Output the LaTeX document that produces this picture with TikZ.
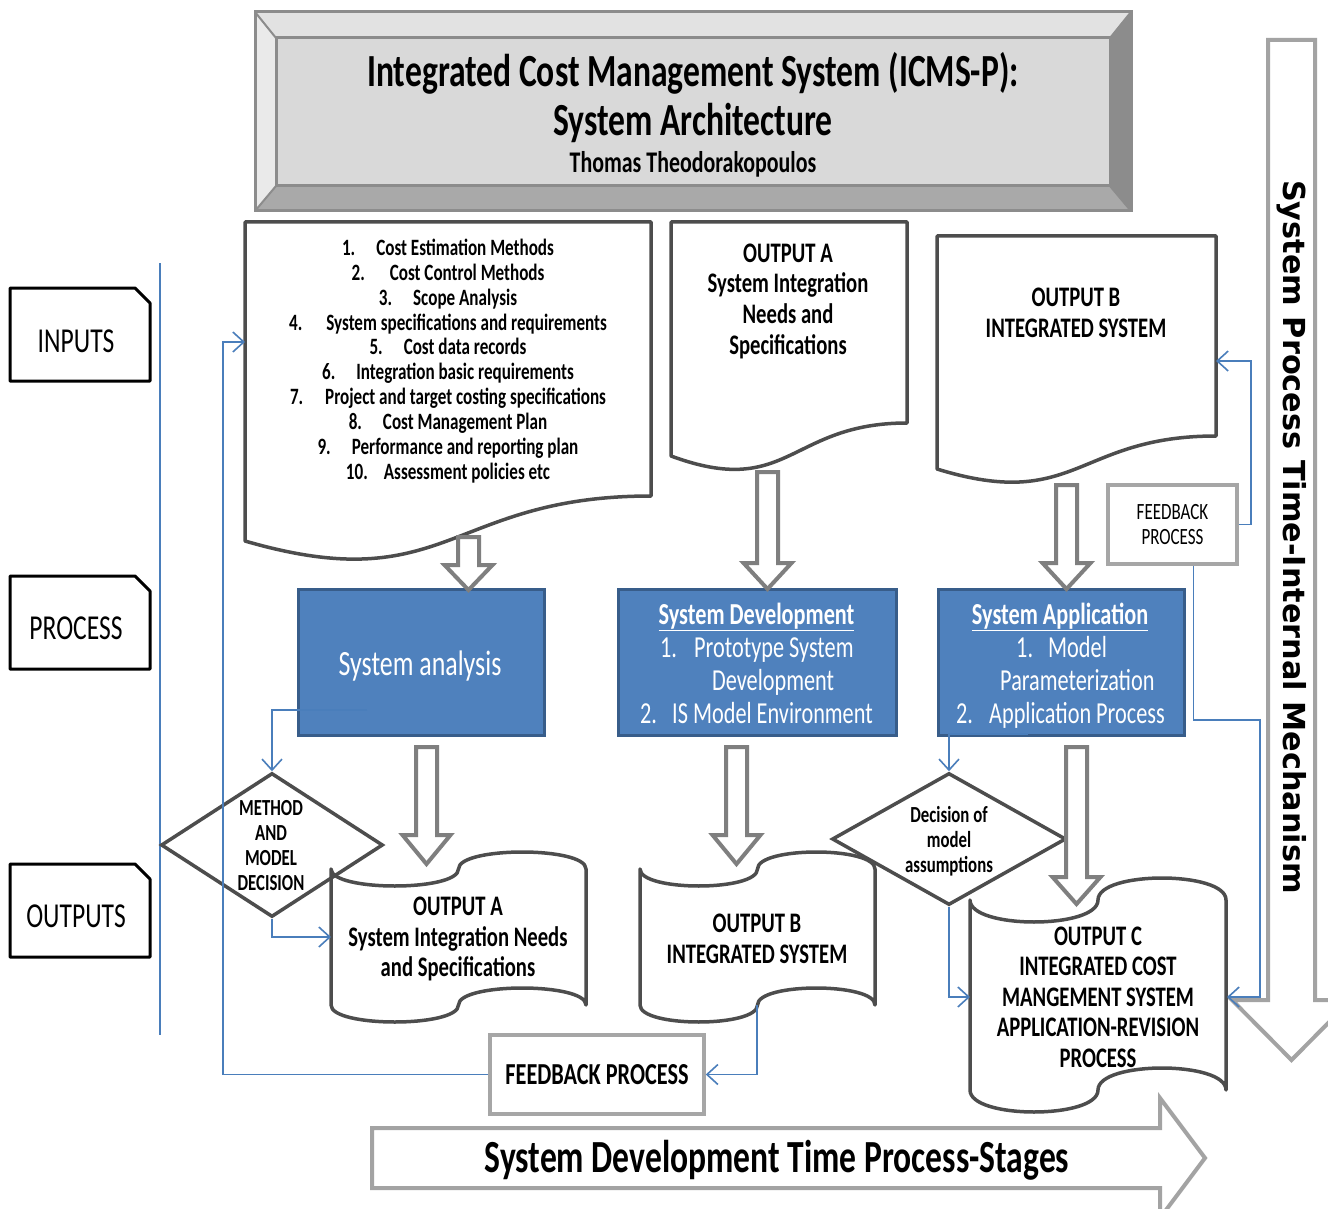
\documentclass[tikz,border=0pt]{standalone}
\usepackage{fontspec}
\setmainfont{Carlito}[FakeStretch=0.73]
\newfontfamily\vertfont{DejaVu Sans}
\usetikzlibrary{arrows.meta,shapes.geometric}

\definecolor{docgray}{HTML}{4D4D4D}
\definecolor{arrowgray}{HTML}{7F7F7F}
\definecolor{bigarrowgray}{HTML}{A3A3A3}
\definecolor{fbgray}{HTML}{A6A6A6}
\definecolor{linkblue}{HTML}{4A7EBB}
\definecolor{boxblue}{HTML}{4F81BD}
\definecolor{boxedge}{HTML}{385D8A}
\definecolor{bevtop}{HTML}{E2E2E2}
\definecolor{bevleft}{HTML}{EAEAEA}
\definecolor{bevright}{HTML}{8C8C8C}
\definecolor{bevbot}{HTML}{A9A9A9}
\definecolor{bevface}{HTML}{D9D9D9}
\definecolor{bevline}{HTML}{8C8C8C}

\newcommand{\sz}[2]{\fontsize{#1}{#2}\selectfont}

% hollow block arrow pointing down: centre x, top, head start, tip
\newcommand{\hollowdown}[4]{%
  \draw[hollow] (#1-10.5,#2) -- (#1+10.5,#2) -- (#1+10.5,#3) -- (#1+24,#3)
    -- (#1,#4) -- (#1-24,#3) -- (#1-10.5,#3) -- cycle;}

% punched tape: left, right, top level, bottom level, wave amplitude
\newcommand{\tapeshape}[5]{%
  \draw[docline] (#1,#3) .. controls (#1,#3+1.333*#5) and ({(#1+#2)/2},#3+1.333*#5) .. ({(#1+#2)/2},#3)
    .. controls ({(#1+#2)/2},#3-1.333*#5) and (#2,#3-1.333*#5) .. (#2,#3)
    -- (#2,#4) .. controls (#2,#4-1.333*#5) and ({(#1+#2)/2},#4-1.333*#5) .. ({(#1+#2)/2},#4)
    .. controls ({(#1+#2)/2},#4+1.333*#5) and (#1,#4+1.333*#5) .. (#1,#4) -- cycle;}

\tikzset{
  docline/.style={draw=docgray, line width=3.5pt, fill=white, line join=round},
  hollow/.style={draw=arrowgray, line width=4pt, fill=white, line join=miter},
  bigarrow/.style={draw=bigarrowgray, line width=4pt, fill=white, line join=miter},
  link/.style={draw=linkblue, line width=1.6pt,
    -{Straight Barb[length=11pt,width=20pt,line width=1.6pt]}},
  bluebox/.style={draw=boxedge, line width=3pt, fill=boxblue, inner sep=0pt},
  fbbox/.style={draw=fbgray, line width=3.5pt, fill=white, inner sep=0pt, align=center},
  txt/.style={inner sep=0pt, align=center, text=black},
  wtxt/.style={inner sep=0pt, text=white, anchor=base west},
  wctr/.style={inner sep=0pt, text=white, anchor=base},
  diam/.style={diamond, draw=docgray, line width=3.5pt, inner sep=0pt},
  labelbox/.style={draw=black, line width=3pt, line join=round, fill=white},
}

\begin{document}
\begin{tikzpicture}[x=1pt,y=-1pt]
\path[use as bounding box] (0,0) rectangle (1328,1209);
\fill[white] (0,0) rectangle (1328,1209);

% ---------- big time arrows ----------
\begin{scope}
\clip (0,0) rectangle (1328,1209);
\draw[bigarrow] (1268,40) -- (1315,40) -- (1315,1000) -- (1351,1000) -- (1291.5,1060)
  -- (1232,1000) -- (1268,1000) -- cycle;
\draw[bigarrow] (372,1128) -- (1160,1128) -- (1160,1098) -- (1205,1158) -- (1160,1218)
  -- (1160,1188) -- (372,1188) -- cycle;
\end{scope}
\node[inner sep=0pt, rotate=-90, font=\vertfont\bfseries\sz{30.3}{36}] (vtime) at (1292,537)
  {System Process Time-Internal Mechanism};
\node[txt, font=\bfseries\sz{46}{50}] (htime) at (777,1160)
  {System Development Time Process-Stages};

% ---------- title block ----------
\fill[bevtop] (255,12) -- (1131,12) -- (1110,38) -- (276,38) -- cycle;
\fill[bevleft] (255,12) -- (276,38) -- (276,186) -- (255,211) -- cycle;
\fill[bevright] (1131,12) -- (1131,211) -- (1110,186) -- (1110,38) -- cycle;
\fill[bevbot] (255,211) -- (1131,211) -- (1110,186) -- (276,186) -- cycle;
\fill[bevface] (276,38) rectangle (1110,186);
\draw[bevline, line width=3pt] (255,12) rectangle (1131,211);
\draw[bevline, line width=3pt] (276,38) rectangle (1110,186);
\draw[bevline, line width=2pt] (255,12) -- (276,38) (1131,12) -- (1110,38)
  (255,211) -- (276,186) (1131,211) -- (1110,186);
\node[txt, font=\bfseries\sz{46}{50}] (ttlA) at (693,73) {Integrated Cost Management System (ICMS-P):};
\node[txt, font=\bfseries\sz{46}{50}] (ttlB) at (693,123) {System Architecture};
\node[txt, font=\bfseries\sz{30}{36}] (ttlC) at (693,164) {Thomas Theodorakopoulos};

% ---------- stage labels ----------
\draw[labelbox] (10,288) -- (135,288) -- (150,303) -- (150,381) -- (10,381) -- cycle;
\draw[labelbox] (10,576) -- (135,576) -- (150,591) -- (150,669) -- (10,669) -- cycle;
\draw[labelbox] (10,864) -- (135,864) -- (150,879) -- (150,957) -- (10,957) -- cycle;
\node[txt, font=\sz{35}{40}] (lblIn) at (76,341) {INPUTS};
\node[txt, font=\sz{35}{40}] (lblPr) at (76,628) {PROCESS};
\node[txt, font=\sz{35}{40}] (lblOut) at (76,916) {OUTPUTS};
\draw[linkblue, line width=1.6pt] (160,263) -- (160,1035);

% ---------- input and output documents ----------
\draw[docline] (245,222) -- (651,222) -- (651,496) .. controls (448,496) and (448,600) .. (245,541) -- cycle;
\node[txt, font=\bfseries\sz{23.4}{24.9}] (inList) at (448,361) {%
1.\hspace{21pt}Cost Estimation Methods\\
2.\hspace{25pt}Cost Control Methods\\
3.\hspace{21pt}Scope Analysis\\
4.\hspace{24pt}System specifications and requirements\\
5.\hspace{21pt}Cost data records\\
6.\hspace{21pt}Integration basic requirements\\
7.\hspace{22pt}Project and target costing specifications\\
8.\hspace{21pt}Cost Management Plan\\
9.\hspace{21pt}Performance and reporting plan\\
10.\hspace{16pt}Assessment policies etc};

\draw[docline] (671,222) -- (907,222) -- (907,423) .. controls (789,423) and (789,499.5) .. (671,456) -- cycle;
\node[txt, font=\bfseries\sz{28.3}{30.7}] (docA) at (788,301)
  {OUTPUT A\\System Integration\\Needs and\\Specifications};

\draw[docline] (937,236) -- (1216,236) -- (1216,436) .. controls (1076.5,436) and (1076.5,512) .. (937,469) -- cycle;
\node[txt, font=\bfseries\sz{28.3}{30.7}] (docB) at (1076,313) {OUTPUT B\\INTEGRATED SYSTEM};

\node[fbbox, minimum width=129pt, minimum height=79pt, font=\sz{23.3}{25}] (fbS) at (1172.5,524.5)
  {FEEDBACK\\PROCESS};

% ---------- process boxes ----------
\node[bluebox, minimum width=246pt, minimum height=146pt] (sa) at (421,662) {};
\node[bluebox, minimum width=278pt, minimum height=146pt] (sd) at (757,662) {};
\node[bluebox, minimum width=246pt, minimum height=146pt] (sapp) at (1061,662) {};

\node[wctr, font=\sz{35.5}{40}] (saT) at (420,675) {System analysis};

\node[wctr, font=\bfseries\sz{30.5}{33}] (sdT) at (756.5,624) {\underline{System Development}};
\node[wtxt, font=\sz{30.5}{33}] (sd1n) at (660,657) {1.};
\node[wtxt, font=\sz{30.5}{33}] (sd1t) at (694,657) {Prototype System};
\node[wtxt, font=\sz{30.5}{33}] (sd1u) at (712,690) {Development};
\node[wtxt, font=\sz{30.5}{33}] (sd2n) at (640,723) {2.};
\node[wtxt, font=\sz{30.5}{33}] (sd2t) at (672,723) {IS Model Environment};

\node[wctr, font=\bfseries\sz{30.5}{33}] (sappT) at (1060,624) {\underline{System Application}};
\node[wtxt, font=\sz{30.5}{33}] (sap1n) at (1016,657) {1.};
\node[wtxt, font=\sz{30.5}{33}] (sap1t) at (1048,657) {Model};
\node[wtxt, font=\sz{30.5}{33}] (sap1u) at (1000,690) {Parameterization};
\node[wtxt, font=\sz{30.5}{33}] (sap2n) at (956,723) {2.};
\node[wtxt, font=\sz{30.5}{33}] (sap2t) at (989,723) {Application Process};

% ---------- output tapes ----------
\tapeshape{331}{586}{869}{1005}{17}
\node[txt, font=\bfseries\sz{28.3}{30.5}] (tapeA) at (458,939)
  {OUTPUT A\\System Integration Needs\\and Specifications};
\tapeshape{640}{875}{869}{1005}{17}
\node[txt, font=\bfseries\sz{28.3}{30.5}] (tapeB) at (757,939) {OUTPUT B\\INTEGRATED SYSTEM};
\tapeshape{970}{1226}{900}{1090}{22}
\node[txt, font=\bfseries\sz{28.3}{30.5}] (tapeC) at (1098,997)
  {OUTPUT C\\INTEGRATED COST\\MANGEMENT SYSTEM\\APPLICATION-REVISION\\PROCESS};

% ---------- decisions ----------
\node[diam, minimum width=222pt, minimum height=144pt] (dmA) at (272,845) {};
\node[txt, font=\bfseries\sz{23}{25}] (dmAt) at (271,846) {METHOD\\AND\\MODEL\\DECISION};
\node[diam, minimum width=234pt, minimum height=132pt] (dmB) at (949,839) {};
\node[txt, font=\bfseries\sz{23}{25}] (dmBt) at (949,841) {Decision of\\model\\assumptions};

\node[fbbox, minimum width=214pt, minimum height=79pt, font=\bfseries\sz{30.5}{36}] (fbB) at (597,1074.5)
  {FEEDBACK PROCESS};

% ---------- flow arrows ----------
\hollowdown{468.5}{537}{565}{590}
\hollowdown{767.5}{472}{563}{589}
\hollowdown{1066.5}{485}{563}{589}
\hollowdown{426.5}{747}{835}{864}
\hollowdown{736.5}{747}{835}{864}
\hollowdown{1076.5}{747}{877}{904}

% ---------- feedback and decision links ----------
\coordinate (inDocIn) at (245,342);
\coordinate (docBIn) at (1216,361);
\coordinate (tapeAIn) at (331,937);
\coordinate (tapeBOut) at (757,1005);
\coordinate (tapeCInL) at (970,997);
\coordinate (tapeCInR) at (1227,997);
\coordinate (saOut) at (367,710);
\coordinate (sappOut) at (1028,734);

\draw[link] (fbS.east) -- ++(12,0) |- (docBIn);
\draw[link] ([xshift=21pt]fbS.south) |- (1260,720) |- (tapeCInR);
\draw[link] (saOut) -| (dmA.north);
\draw[link] (dmA.south) |- (tapeAIn);
\draw[link] (tapeBOut) |- (fbB.east);
\draw[link] (fbB.west) -| (223,342) -- (inDocIn);
\draw[link] (sappOut) -| (dmB.north);
\draw[link] (dmB.south) |- (tapeCInL);
\end{tikzpicture}
\end{document}
